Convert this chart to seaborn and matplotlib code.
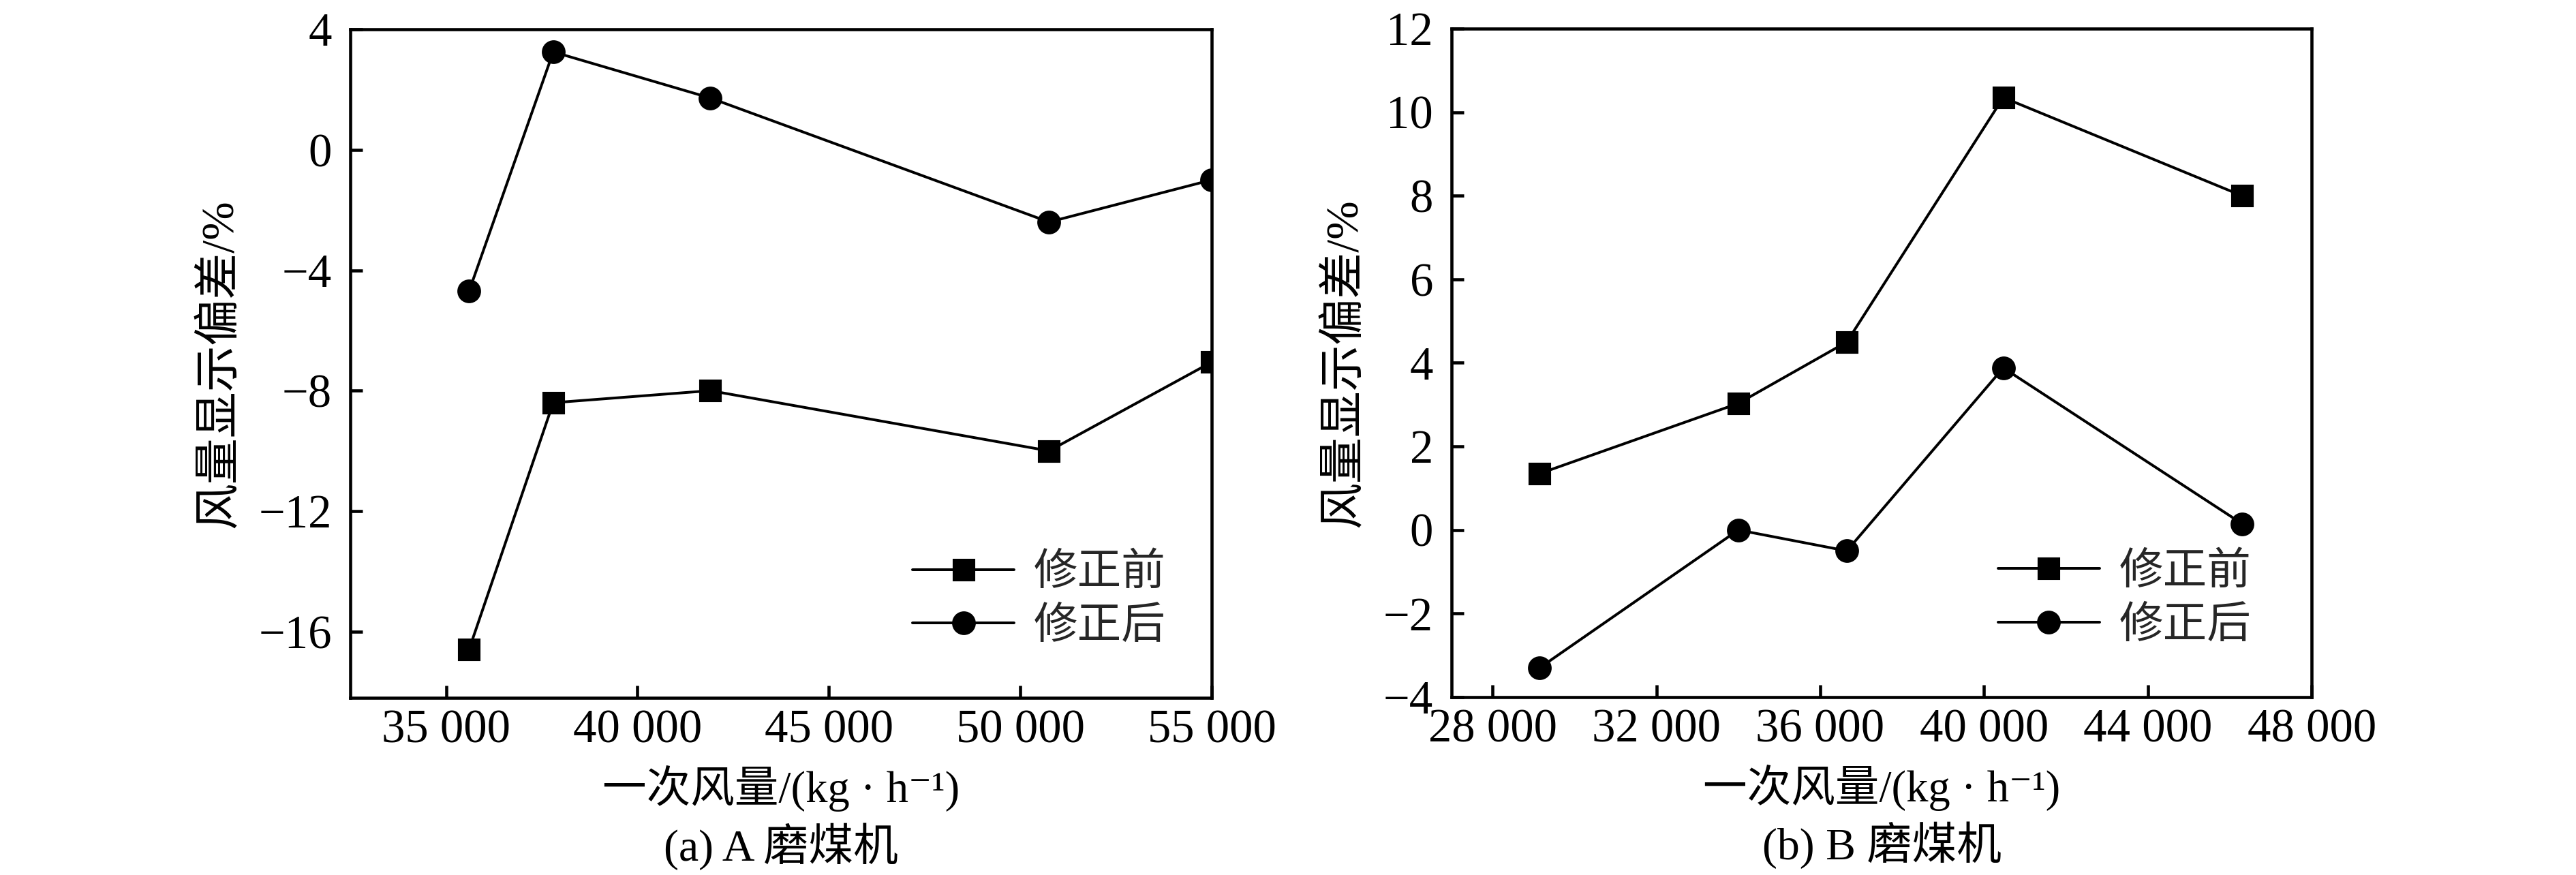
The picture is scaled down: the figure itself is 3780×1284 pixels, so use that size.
import matplotlib
matplotlib.use("Agg")
import matplotlib.pyplot as plt
from matplotlib.ticker import FuncFormatter
import seaborn as sns

# -- data
# (a) mill A
a_flow = [35600, 37800, 41900, 50750, 55000]
a_before = [-16.6, -8.4, -8.0, -10.0, -7.05]
a_after = [-4.7, 3.25, 1.72, -2.4, -1.0]

# (b) mill B
b_flow = [29150, 34000, 36650, 40470, 46300]
b_before = [1.35, 3.03, 4.5, 10.35, 8.0]
b_after = [-3.3, 0.0, -0.5, 3.88, 0.15]

series_names = ["修正前", "修正后"]
a_xticks = [35000, 40000, 45000, 50000, 55000]
a_yticks = [-16, -12, -8, -4, 0, 4]
b_xticks = [28000, 32000, 36000, 40000, 44000, 48000]
b_yticks = [-4, -2, 0, 2, 4, 6, 8, 10, 12]

x_label = "一次风量/(kg · h⁻¹)"
y_label = "风量显示偏差/%"
captions = ["(a) A 磨煤机", "(b) B 磨煤机"]

sns.set_theme(style="white")
FONTS = ["Liberation Serif", "Noto Sans CJK SC", "DejaVu Sans"]
plt.rcParams["font.family"] = FONTS
plt.rcParams["axes.unicode_minus"] = True
plt.rcParams["axes.edgecolor"] = "black"
plt.rcParams["axes.linewidth"] = 1.1


def thousands(v, pos):
    return f"{int(round(v)):,}".replace(",", " ")


def draw_panel(ax, flow, before, after, xlim, ylim, xticks, yticks, caption):
    sns.lineplot(x=flow, y=before, ax=ax, color="black", marker="s", markersize=7.4,
                 markeredgecolor="black", linewidth=0.95, label=series_names[0])
    sns.lineplot(x=flow, y=after, ax=ax, color="black", marker="o", markersize=7.6,
                 markeredgecolor="black", linewidth=0.95, label=series_names[1])
    ax.set_xlim(*xlim)
    ax.set_ylim(*ylim)
    ax.set_xticks(xticks)
    ax.set_yticks(yticks)
    ax.xaxis.set_major_formatter(FuncFormatter(thousands))
    ax.tick_params(direction="in", length=4.3, width=1.1, labelsize=16.5,
                   colors="black", bottom=True, left=True, top=False, right=False)
    ax.tick_params(axis="y", pad=6.5)
    ax.tick_params(axis="x", pad=4)
    for s in ax.spines.values():
        s.set_color("black")
        s.set_linewidth(1.1)

    ax.set_ylabel(y_label, fontsize=16.3, labelpad=6, color="black")
    ax.set_xlabel("")
    ax.text(0.5, -0.1356, x_label, transform=ax.transAxes, ha="center", va="center",
            fontsize=15.5, color="black")
    ax.text(0.5, -0.222, caption, transform=ax.transAxes, ha="center", va="center",
            fontsize=15.8, color="black")
    return ax


fig = plt.figure(figsize=(12.6, 4.28), dpi=300)
ax1 = fig.add_axes([0.1360, 0.2025, 0.3344, 0.7640])
ax2 = fig.add_axes([0.5635, 0.2033, 0.3339, 0.7640])

draw_panel(ax1, a_flow, a_before, a_after, (32500, 55000), (-18.2, 4),
           a_xticks, a_yticks, captions[0])
draw_panel(ax2, b_flow, b_before, b_after, (27000, 48000), (-4, 12),
           b_xticks, b_yticks, captions[1])

for ax, x0 in [(ax1, 0.653), (ax2, 0.6355)]:
    ax.legend(loc="center left", bbox_to_anchor=(x0, 0.145), frameon=False,
              fontsize=15.5, handlelength=2.3, handletextpad=0.45,
              labelspacing=0.3, borderpad=0, borderaxespad=0)

fig.savefig("out.png", dpi=300)
